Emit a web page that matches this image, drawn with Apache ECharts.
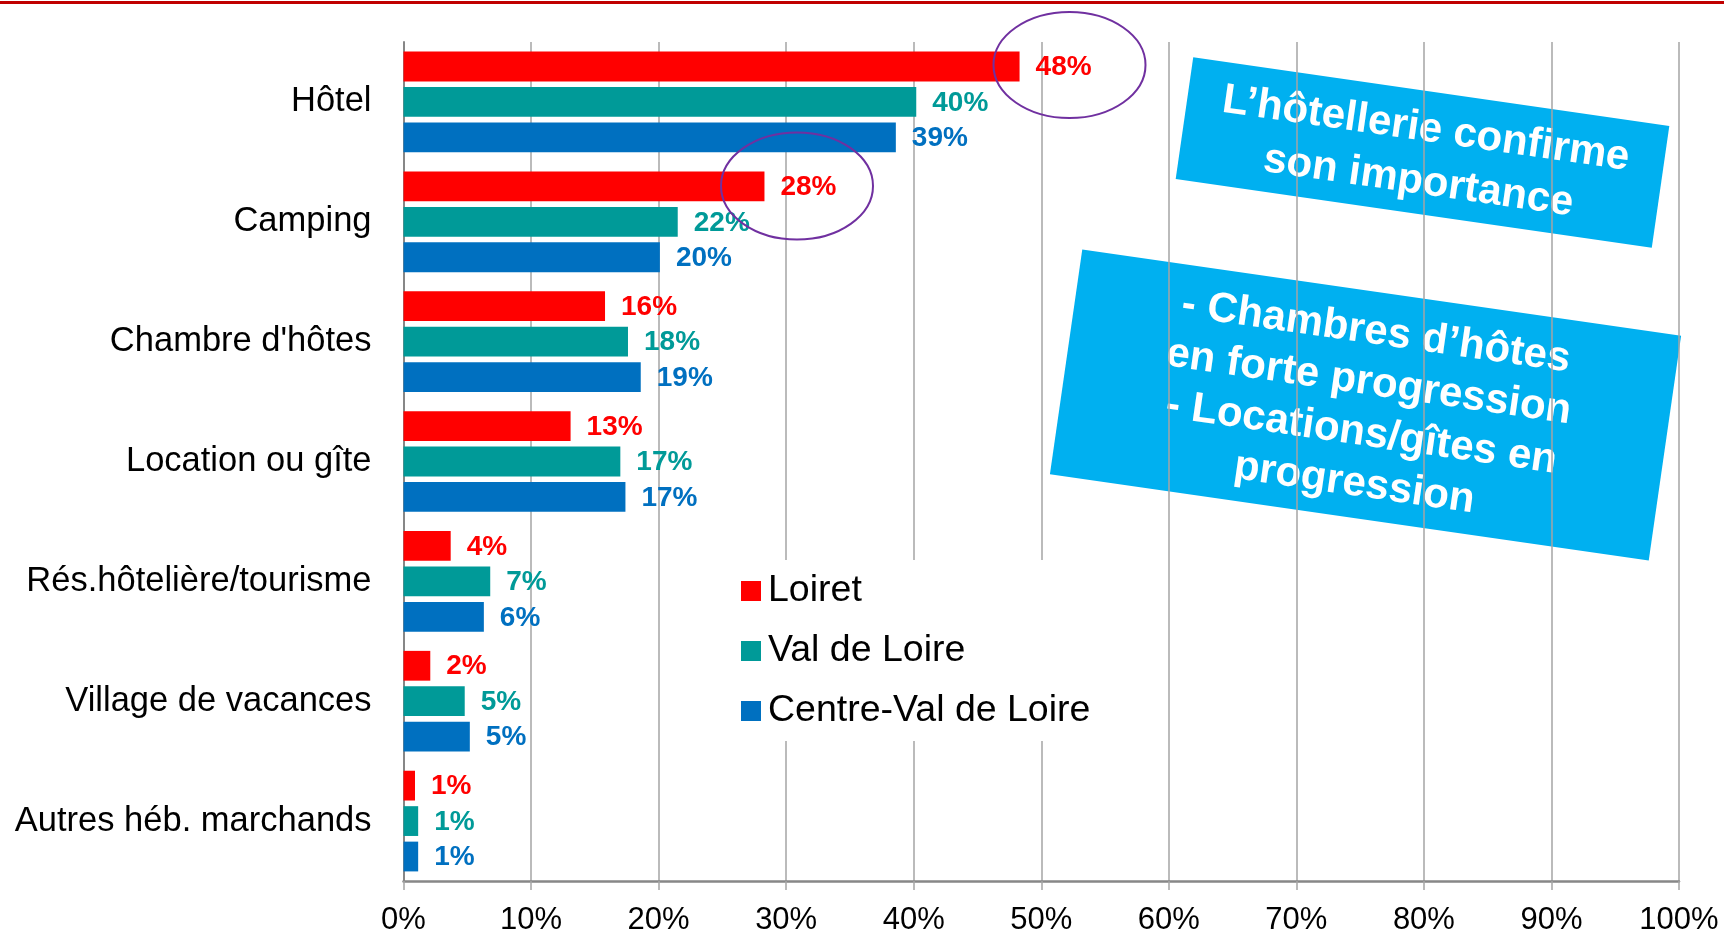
<!DOCTYPE html>
<html>
<head>
<meta charset="utf-8">
<style>
  html, body { margin: 0; padding: 0; background: #fff; }
  #chart { width: 1724px; height: 936px; }
</style>
<script src="https://cdn.jsdelivr.net/npm/echarts@6/dist/echarts.min.js"></script>
</head>
<body>
<div id="chart"></div>
<script>
const categories = ['Hôtel', 'Camping', "Chambre d'hôtes", 'Location ou gîte',
  'Rés.hôtelière/tourisme', 'Village de vacances', 'Autres héb. marchands'];
const seriesNames = ['Loiret', 'Val de Loire', 'Centre-Val de Loire'];
const loiret = [48.3, 28.3, 15.8, 13.1, 3.7, 2.1, 0.9];
const valDeLoire = [40.2, 21.5, 17.6, 17.0, 6.8, 4.8, 1.15];
const centreValDeLoire = [38.6, 20.1, 18.6, 17.4, 6.3, 5.2, 1.15];
const seriesColors = ['#FF0000', '#009A98', '#0070C0'];
const boxTexts = [
  "L’hôtellerie confirme\nson importance",
  "- Chambres d’hôtes\nen forte progression\n- Locations/gîtes en\nprogression"
];

const FONT = '"Liberation Sans", Arial, Helvetica, sans-serif';
const chart = echarts.init(document.getElementById('chart'));

function barSeries(name, data, color) {
  return {
    name: name,
    type: 'bar',
    data: data,
    barCategoryGap: '16%',
    barGap: '19%',
    itemStyle: { color: color },
    label: {
      show: true,
      position: 'right',
      distance: 16,
      offset: [0, 1],
      color: color,
      fontFamily: FONT,
      fontSize: 28,
      fontWeight: 'bold',
      formatter: p => Math.round(p.value) + '%'
    }
  };
}

const tilt = -8.2 * Math.PI / 180;

function noteBox(cx, cy, w, h, text, lh) {
  return {
    type: 'group',
    x: cx,
    y: cy,
    rotation: tilt,
    z: 100,
    children: [
      {
        type: 'rect',
        shape: { x: -w / 2, y: -h / 2, width: w, height: h },
        style: { fill: '#00B0F0' }
      },
      {
        type: 'text',
        x: 0,
        y: 3,
        style: {
          text: text,
          fill: '#fff',
          fontFamily: FONT,
          fontSize: 42,
          fontWeight: 'bold',
          lineHeight: lh,
          align: 'center',
          verticalAlign: 'middle',
          textAlign: 'center',
          textVerticalAlign: 'middle'
        }
      }
    ]
  };
}

const option = {
  backgroundColor: '#fff',
  animation: false,
  grid: { left: 403.5, right: 45, top: 42, bottom: 53.5 },
  legend: {
    data: seriesNames,
    orient: 'vertical',
    left: 721,
    top: 560,
    padding: [11, 20, 10, 20],
    backgroundColor: '#fff',
    icon: 'rect',
    itemWidth: 20,
    itemHeight: 20,
    itemGap: 20,
    textStyle: { fontFamily: FONT, fontSize: 37.5, lineHeight: 40, color: '#000', padding: [0, 0, 0, 2] }
  },
  xAxis: {
    type: 'value',
    min: 0,
    max: 100,
    interval: 10,
    axisLine: { show: true, lineStyle: { color: '#878787', width: 2.5 } },
    axisTick: { show: true, length: 9, lineStyle: { color: '#A5A5A5', width: 1.5 } },
    splitLine: { show: true, lineStyle: { color: '#A5A5A5', width: 1.5 } },
    axisLabel: {
      formatter: '{value}%',
      fontFamily: FONT,
      fontSize: 31,
      color: '#000',
      margin: 24
    }
  },
  yAxis: {
    type: 'category',
    data: categories,
    inverse: true,
    axisLine: { show: true, lineStyle: { color: '#878787', width: 2 } },
    axisTick: { show: false },
    axisLabel: { fontFamily: FONT, fontSize: 34.5, color: '#000', margin: 32 }
  },
  series: [
    barSeries(seriesNames[0], loiret, seriesColors[0]),
    barSeries(seriesNames[1], valDeLoire, seriesColors[1]),
    barSeries(seriesNames[2], centreValDeLoire, seriesColors[2])
  ],
  graphic: [
    {
      type: 'rect',
      shape: { x: 0, y: 1, width: 1724, height: 3 },
      style: { fill: '#C00000' },
      z: 100
    },
    noteBox(1422.5, 152.5, 481, 123, boxTexts[0], 53),
    noteBox(1365.5, 405, 605, 227, boxTexts[1], 51),
    {
      type: 'ellipse',
      shape: { cx: 1069.5, cy: 65, rx: 76, ry: 53 },
      style: { fill: null, stroke: '#7030A0', lineWidth: 2 },
      z: 110
    },
    {
      type: 'ellipse',
      shape: { cx: 797, cy: 186, rx: 76, ry: 53.5 },
      style: { fill: null, stroke: '#7030A0', lineWidth: 2 },
      z: 110
    }
  ]
};

chart.setOption(option);
window.onresize = function () {
  chart.resize();
};
</script>
</body>
</html>
